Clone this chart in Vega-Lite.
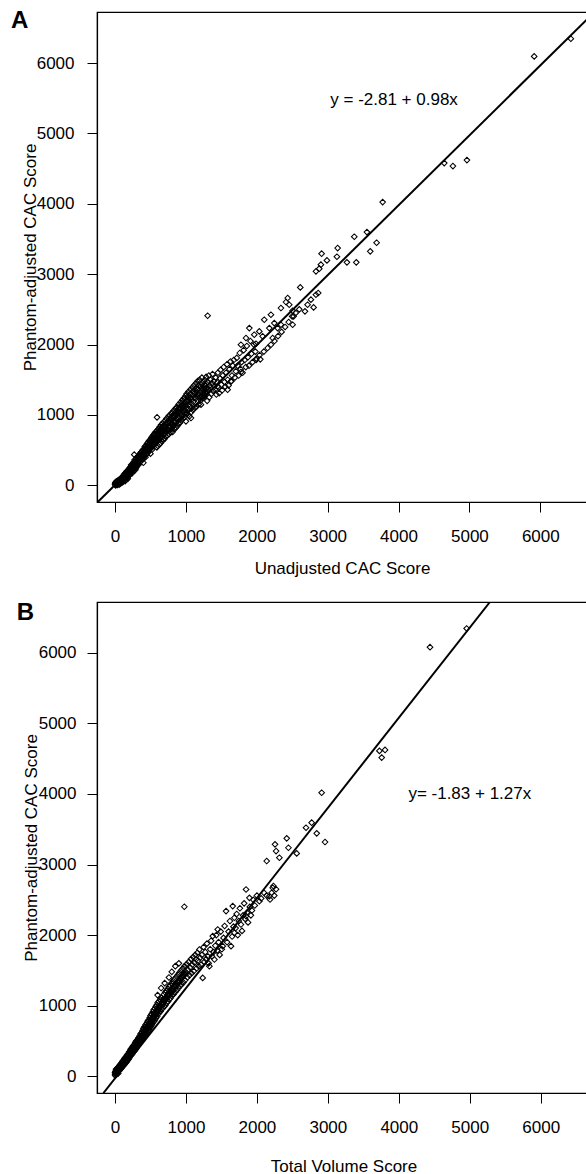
{
"$schema":"https://vega.github.io/schema/vega-lite/v6.json",
"autosize":{"type":"pad"},
"padding":{"left":10,"top":8,"right":0,"bottom":0},
"spacing":23,
"columns":1,
"align":"none",
"config":{"font":"Liberation Sans","view":{"stroke":"black","strokeWidth":1.2},
"axis":{"grid":false,"domainColor":"black","domainWidth":1.2,"tickColor":"black","tickWidth":1,"tickSize":10,"labelColor":"black","labelFontSize":17,"labelFont":"Liberation Sans","titleColor":"black","titleFontSize":17,"titleFontWeight":"normal","titleFont":"Liberation Sans","labelFlush":false,"labelOverlap":false}},
"datasets":{
"lineA":[{"x":-243,"y":-237},{"x":6657,"y":6619}],
"lineB":[{"x":-163,"y":-237},{"x":5285,"y":6720}],
"txtA":[{"x":3037,"y":5406,"label":"y = -2.81 + 0.98x"}],
"txtB":[{"x":4135,"y":3930,"label":"y= -1.83 + 1.27x"}],
"lblA":[{"x":-1467,"y":6493,"label":"A"}],
"lblB":[{"x":-1385,"y":6468,"label":"B"}],
"ptsA":[
{"x":0,"y":10},{"x":5,"y":40},{"x":10,"y":0},{"x":12,"y":25},{"x":18,"y":55},{"x":20,"y":15},{"x":25,"y":35},{"x":30,"y":60},{"x":32,"y":5},{"x":38,"y":45},{"x":40,"y":20},{"x":45,"y":70},{"x":50,"y":30},{"x":55,"y":55},{"x":58,"y":10},{"x":62,"y":80},{"x":65,"y":40},{"x":70,"y":60},{"x":72,"y":25},{"x":78,"y":95},{"x":80,"y":50},{"x":85,"y":70},{"x":88,"y":35},{"x":92,"y":110},{"x":95,"y":60},{"x":100,"y":85},{"x":100,"y":40},
{"x":3,"y":28},{"x":15,"y":42},{"x":22,"y":48},{"x":28,"y":20},{"x":35,"y":30},{"x":42,"y":55},{"x":48,"y":45},{"x":52,"y":68},{"x":60,"y":50},{"x":68,"y":75},{"x":75,"y":45},{"x":82,"y":88},{"x":90,"y":75},{"x":97,"y":100},
{"x":105,"y":120},{"x":108,"y":70},{"x":112,"y":95},{"x":115,"y":50},{"x":120,"y":140},{"x":122,"y":100},{"x":128,"y":75},{"x":130,"y":160},{"x":135,"y":115},{"x":138,"y":90},{"x":142,"y":60},{"x":145,"y":175},{"x":150,"y":130},{"x":152,"y":100},{"x":158,"y":150},{"x":160,"y":80},{"x":165,"y":200},{"x":168,"y":140},{"x":172,"y":115},{"x":175,"y":180},{"x":180,"y":95},{"x":182,"y":210},{"x":186,"y":160},{"x":190,"y":130},{"x":194,"y":230},{"x":198,"y":175},{"x":200,"y":145},
{"x":110,"y":110},{"x":118,"y":80},{"x":125,"y":125},{"x":132,"y":135},{"x":140,"y":105},{"x":148,"y":150},{"x":155,"y":120},{"x":162,"y":165},{"x":170,"y":170},{"x":178,"y":135},{"x":184,"y":190},{"x":192,"y":155},{"x":196,"y":205},
{"x":205,"y":245},{"x":208,"y":200},{"x":212,"y":160},{"x":215,"y":260},{"x":220,"y":215},{"x":224,"y":180},{"x":228,"y":290},{"x":232,"y":240},{"x":236,"y":200},{"x":240,"y":170},{"x":244,"y":280},{"x":248,"y":230},{"x":252,"y":310},{"x":256,"y":255},{"x":260,"y":210},{"x":264,"y":330},{"x":268,"y":275},{"x":272,"y":240},{"x":272,"y":436},{"x":276,"y":360},{"x":280,"y":300},{"x":284,"y":255},{"x":288,"y":220},{"x":292,"y":340},{"x":296,"y":290},{"x":300,"y":380},{"x":300,"y":250},
{"x":210,"y":225},{"x":218,"y":195},{"x":226,"y":250},{"x":234,"y":220},{"x":242,"y":260},{"x":250,"y":270},{"x":258,"y":235},{"x":266,"y":300},{"x":274,"y":290},{"x":282,"y":330},{"x":290,"y":275},{"x":298,"y":320},
{"x":305,"y":330},{"x":310,"y":400},{"x":315,"y":280},{"x":320,"y":360},{"x":325,"y":310},{"x":330,"y":420},{"x":335,"y":370},{"x":340,"y":300},{"x":345,"y":440},{"x":350,"y":390},{"x":355,"y":330},{"x":360,"y":460},{"x":365,"y":400},{"x":370,"y":350},{"x":375,"y":480},{"x":380,"y":420},{"x":385,"y":370},{"x":390,"y":500},{"x":395,"y":440},{"x":400,"y":380},{"x":400,"y":320},
{"x":308,"y":365},{"x":318,"y":330},{"x":328,"y":390},{"x":338,"y":345},{"x":348,"y":410},{"x":358,"y":370},{"x":368,"y":430},{"x":378,"y":395},{"x":388,"y":450},{"x":398,"y":410},
{"x":405,"y":470},{"x":410,"y":520},{"x":415,"y":410},{"x":420,"y":550},{"x":425,"y":460},{"x":430,"y":400},{"x":435,"y":560},{"x":440,"y":500},{"x":445,"y":440},{"x":450,"y":590},{"x":455,"y":520},{"x":460,"y":460},{"x":465,"y":610},{"x":470,"y":540},{"x":475,"y":480},{"x":480,"y":630},{"x":485,"y":560},{"x":490,"y":510},{"x":495,"y":650},{"x":500,"y":580},{"x":500,"y":450},
{"x":408,"y":440},{"x":418,"y":490},{"x":428,"y":520},{"x":438,"y":470},{"x":448,"y":530},{"x":458,"y":560},{"x":468,"y":500},{"x":478,"y":580},{"x":488,"y":600},{"x":498,"y":520},
{"x":505,"y":620},{"x":510,"y":530},{"x":515,"y":680},{"x":520,"y":600},{"x":525,"y":510},{"x":530,"y":700},{"x":535,"y":630},{"x":540,"y":560},{"x":545,"y":720},{"x":550,"y":650},{"x":555,"y":580},{"x":560,"y":740},{"x":565,"y":670},{"x":570,"y":600},{"x":575,"y":760},{"x":580,"y":690},{"x":585,"y":620},{"x":590,"y":540},{"x":593,"y":966},{"x":595,"y":780},{"x":600,"y":700},{"x":600,"y":630},
{"x":508,"y":570},{"x":518,"y":650},{"x":528,"y":560},{"x":538,"y":680},{"x":548,"y":610},{"x":558,"y":700},{"x":568,"y":640},{"x":578,"y":720},{"x":588,"y":660},{"x":598,"y":740},
{"x":605,"y":560},{"x":610,"y":800},{"x":615,"y":720},{"x":620,"y":650},{"x":625,"y":580},{"x":630,"y":830},{"x":635,"y":750},{"x":640,"y":680},{"x":645,"y":600},{"x":650,"y":860},{"x":655,"y":770},{"x":660,"y":700},{"x":665,"y":630},{"x":670,"y":880},{"x":675,"y":800},{"x":680,"y":720},{"x":685,"y":650},{"x":690,"y":900},{"x":695,"y":820},{"x":700,"y":740},{"x":700,"y":660},
{"x":608,"y":680},{"x":618,"y":760},{"x":628,"y":700},{"x":638,"y":790},{"x":648,"y":730},{"x":658,"y":820},{"x":668,"y":750},{"x":678,"y":840},{"x":688,"y":780},{"x":698,"y":860},
{"x":708,"y":920},{"x":712,"y":780},{"x":716,"y":690},{"x":722,"y":860},{"x":728,"y":950},{"x":734,"y":800},{"x":740,"y":710},{"x":746,"y":880},{"x":752,"y":980},{"x":758,"y":820},{"x":764,"y":730},{"x":770,"y":900},{"x":776,"y":1000},{"x":782,"y":840},{"x":788,"y":760},{"x":794,"y":930},{"x":800,"y":1030},{"x":800,"y":800},
{"x":705,"y":820},{"x":720,"y":760},{"x":732,"y":890},{"x":744,"y":780},{"x":756,"y":920},{"x":768,"y":850},{"x":780,"y":950},{"x":792,"y":870},
{"x":808,"y":870},{"x":814,"y":760},{"x":820,"y":960},{"x":826,"y":1060},{"x":832,"y":900},{"x":838,"y":800},{"x":844,"y":990},{"x":850,"y":1090},{"x":856,"y":920},{"x":862,"y":820},{"x":868,"y":1010},{"x":874,"y":1110},{"x":880,"y":950},{"x":886,"y":850},{"x":892,"y":1040},{"x":898,"y":1150},{"x":900,"y":880},
{"x":806,"y":980},{"x":818,"y":840},{"x":830,"y":1000},{"x":842,"y":900},{"x":854,"y":1040},{"x":866,"y":940},{"x":878,"y":1060},{"x":890,"y":960},
{"x":906,"y":980},{"x":912,"y":1080},{"x":918,"y":890},{"x":924,"y":1180},{"x":931,"y":1098},{"x":936,"y":920},{"x":942,"y":1110},{"x":948,"y":1210},{"x":954,"y":1040},{"x":960,"y":950},{"x":966,"y":1140},{"x":972,"y":1240},{"x":978,"y":1060},{"x":984,"y":970},{"x":990,"y":1170},{"x":996,"y":1270},{"x":1000,"y":1090},{"x":1001,"y":909},
{"x":904,"y":1100},{"x":916,"y":1020},{"x":928,"y":1130},{"x":940,"y":1000},{"x":952,"y":1150},{"x":964,"y":1060},{"x":976,"y":1180},{"x":988,"y":1070},
{"x":1010,"y":1300},{"x":1016,"y":1010},{"x":1022,"y":1190},{"x":1030,"y":1090},{"x":1036,"y":1330},{"x":1042,"y":1220},{"x":1050,"y":980},{"x":1056,"y":1120},{"x":1062,"y":1360},{"x":1072,"y":956},{"x":1068,"y":1250},{"x":1076,"y":1040},{"x":1082,"y":1160},{"x":1090,"y":1390},{"x":1096,"y":1280},{"x":1100,"y":1070},
{"x":1005,"y":1200},{"x":1025,"y":1260},{"x":1045,"y":1150},{"x":1065,"y":1300},{"x":1085,"y":1220},{"x":1105,"y":1340},{"x":1125,"y":1250},{"x":1145,"y":1380},{"x":1165,"y":1300},{"x":1185,"y":1420},{"x":1205,"y":1250},{"x":1225,"y":1380},{"x":1245,"y":1310},{"x":1265,"y":1430},{"x":1285,"y":1370},
{"x":1108,"y":1190},{"x":1114,"y":1420},{"x":1120,"y":1310},{"x":1128,"y":1100},{"x":1134,"y":1230},{"x":1140,"y":1450},{"x":1146,"y":1340},{"x":1152,"y":1120},{"x":1160,"y":1260},{"x":1166,"y":1480},{"x":1172,"y":1370},{"x":1180,"y":1150},{"x":1186,"y":1290},{"x":1192,"y":1500},{"x":1200,"y":1400},{"x":1213,"y":1146},
{"x":1208,"y":1320},{"x":1214,"y":1210},{"x":1220,"y":1440},{"x":1226,"y":1530},{"x":1232,"y":1350},{"x":1240,"y":1240},{"x":1246,"y":1470},{"x":1252,"y":1380},{"x":1260,"y":1270},{"x":1266,"y":1500},{"x":1272,"y":1410},{"x":1280,"y":1300},{"x":1286,"y":1540},{"x":1292,"y":1440},{"x":1300,"y":1330},{"x":1300,"y":1200},
{"x":1308,"y":1470},{"x":1307,"y":2410},{"x":1316,"y":1360},{"x":1324,"y":1560},{"x":1330,"y":1250},{"x":1338,"y":1420},{"x":1346,"y":1500},{"x":1352,"y":1390},{"x":1360,"y":1300},{"x":1368,"y":1450},{"x":1376,"y":1580},{"x":1384,"y":1340},{"x":1392,"y":1480},{"x":1400,"y":1400},
{"x":1412,"y":1360},{"x":1420,"y":1530},{"x":1430,"y":1290},{"x":1440,"y":1460},{"x":1448,"y":1406},{"x":1452,"y":1600},{"x":1460,"y":1390},{"x":1470,"y":1310},{"x":1482,"y":1520},{"x":1490,"y":1640},{"x":1500,"y":1430},{"x":1512,"y":1350},{"x":1520,"y":1560},{"x":1534,"y":1680},{"x":1545,"y":1470},{"x":1556,"y":1400},{"x":1568,"y":1600},{"x":1580,"y":1720},{"x":1589,"y":1359},{"x":1590,"y":1500},
{"x":1602,"y":1420},{"x":1615,"y":1650},{"x":1630,"y":1760},{"x":1636,"y":1477},{"x":1640,"y":1480},{"x":1650,"y":1560},{"x":1662,"y":1700},{"x":1675,"y":1780},{"x":1690,"y":1530},{"x":1705,"y":1620},{"x":1718,"y":1810},{"x":1730,"y":1700},{"x":1745,"y":1560},{"x":1760,"y":1880},{"x":1772,"y":1650},{"x":1777,"y":1609},{"x":1785,"y":1750},{"x":1800,"y":1600},{"x":1815,"y":1920},{"x":1830,"y":1780},{"x":1845,"y":1680},{"x":1860,"y":1980},{"x":1875,"y":1820},{"x":1890,"y":1700},{"x":1910,"y":2050},{"x":1925,"y":1870},{"x":1940,"y":1750},{"x":1960,"y":2000},{"x":1980,"y":1900},{"x":1995,"y":1800},{"x":2040,"y":1850},{"x":1990,"y":1780},
{"x":2100,"y":1900},{"x":2153,"y":1951},{"x":2200,"y":1998},{"x":2050,"y":1790},{"x":2250,"y":2050},{"x":2300,"y":2120},{"x":2350,"y":2180},{"x":2400,"y":2250},{"x":2450,"y":2320},{"x":2500,"y":2400},{"x":2550,"y":2450},{"x":2600,"y":2500},{"x":2680,"y":2472},{"x":2717,"y":2566},{"x":2764,"y":2638},{"x":2802,"y":2528},{"x":2835,"y":2708},{"x":2867,"y":2732},
{"x":2436,"y":2661},{"x":2412,"y":2604},{"x":2458,"y":2566},{"x":2341,"y":2519},{"x":2506,"y":2481},{"x":2520,"y":2401},{"x":2506,"y":2282},{"x":2200,"y":2424},{"x":2106,"y":2353},{"x":2247,"y":2305},{"x":2294,"y":2234},{"x":2341,"y":2282},{"x":2177,"y":2234},{"x":1895,"y":2234},{"x":2036,"y":2187},{"x":1965,"y":2140},{"x":2083,"y":2117},{"x":2224,"y":2093},{"x":1777,"y":1998},{"x":1848,"y":2093},{"x":1989,"y":2012},{"x":2614,"y":2812},
{"x":2835,"y":3040},{"x":2882,"y":3078},{"x":2905,"y":3135},{"x":2915,"y":3291},{"x":2990,"y":3196},{"x":3141,"y":3371},{"x":3131,"y":3248},{"x":3272,"y":3168},{"x":3404,"y":3168},{"x":3376,"y":3532},{"x":3554,"y":3598},{"x":3601,"y":3324},{"x":3691,"y":3447},{"x":3776,"y":4024},{"x":4645,"y":4578},{"x":4767,"y":4536},{"x":4965,"y":4621},{"x":5914,"y":6094},{"x":6431,"y":6345}
],
"ptsB":[
{"x":0,"y":20},{"x":0,"y":50},{"x":3,"y":10},{"x":5,"y":70},{"x":10,"y":40},{"x":15,"y":100},{"x":20,"y":25},{"x":25,"y":80},{"x":30,"y":55},{"x":35,"y":120},{"x":40,"y":70},{"x":45,"y":40},{"x":50,"y":100},{"x":55,"y":140},{"x":60,"y":80},{"x":65,"y":120},{"x":70,"y":160},{"x":75,"y":95},{"x":80,"y":140},{"x":85,"y":180},{"x":90,"y":115},{"x":95,"y":160},{"x":100,"y":200},{"x":100,"y":130},
{"x":5,"y":35},{"x":12,"y":60},{"x":18,"y":85},{"x":22,"y":50},{"x":28,"y":105},{"x":33,"y":75},{"x":38,"y":95},{"x":43,"y":125},{"x":48,"y":70},{"x":53,"y":115},{"x":58,"y":105},{"x":63,"y":150},{"x":68,"y":100},{"x":73,"y":135},{"x":78,"y":170},{"x":83,"y":120},{"x":88,"y":150},{"x":93,"y":185},{"x":98,"y":145},
{"x":105,"y":170},{"x":110,"y":220},{"x":115,"y":145},{"x":120,"y":190},{"x":125,"y":240},{"x":130,"y":165},{"x":135,"y":215},{"x":140,"y":260},{"x":145,"y":180},{"x":150,"y":235},{"x":155,"y":280},{"x":160,"y":200},{"x":165,"y":255},{"x":170,"y":300},{"x":175,"y":220},{"x":180,"y":275},{"x":185,"y":320},{"x":190,"y":240},{"x":195,"y":300},{"x":200,"y":345},{"x":200,"y":260},
{"x":108,"y":195},{"x":113,"y":170},{"x":118,"y":215},{"x":128,"y":205},{"x":133,"y":190},{"x":138,"y":235},{"x":148,"y":210},{"x":153,"y":255},{"x":158,"y":230},{"x":168,"y":275},{"x":173,"y":250},{"x":178,"y":300},{"x":188,"y":290},{"x":193,"y":265},{"x":198,"y":320},
{"x":205,"y":330},{"x":210,"y":280},{"x":215,"y":370},{"x":220,"y":310},{"x":225,"y":390},{"x":230,"y":300},{"x":235,"y":350},{"x":240,"y":410},{"x":245,"y":320},{"x":250,"y":380},{"x":255,"y":430},{"x":260,"y":345},{"x":265,"y":400},{"x":270,"y":450},{"x":275,"y":360},{"x":280,"y":430},{"x":285,"y":480},{"x":290,"y":380},{"x":295,"y":450},{"x":300,"y":500},{"x":300,"y":400},
{"x":208,"y":305},{"x":218,"y":345},{"x":228,"y":330},{"x":238,"y":380},{"x":248,"y":355},{"x":258,"y":400},{"x":268,"y":375},{"x":278,"y":405},{"x":288,"y":430},{"x":298,"y":425},
{"x":305,"y":470},{"x":310,"y":420},{"x":315,"y":520},{"x":320,"y":440},{"x":325,"y":490},{"x":330,"y":545},{"x":335,"y":460},{"x":340,"y":520},{"x":345,"y":570},{"x":350,"y":480},{"x":355,"y":540},{"x":360,"y":600},{"x":365,"y":500},{"x":370,"y":570},{"x":375,"y":620},{"x":380,"y":520},{"x":385,"y":590},{"x":390,"y":650},{"x":395,"y":540},{"x":400,"y":610},{"x":400,"y":680},
{"x":308,"y":445},{"x":318,"y":480},{"x":328,"y":470},{"x":338,"y":495},{"x":348,"y":525},{"x":358,"y":510},{"x":368,"y":545},{"x":378,"y":570},{"x":388,"y":555},{"x":398,"y":580},
{"x":405,"y":560},{"x":410,"y":640},{"x":415,"y":700},{"x":420,"y":580},{"x":425,"y":660},{"x":430,"y":730},{"x":435,"y":600},{"x":440,"y":690},{"x":445,"y":750},{"x":450,"y":620},{"x":455,"y":710},{"x":460,"y":780},{"x":465,"y":640},{"x":470,"y":740},{"x":475,"y":800},{"x":480,"y":660},{"x":485,"y":760},{"x":490,"y":830},{"x":495,"y":690},{"x":500,"y":780},{"x":500,"y":860},{"x":507,"y":803},
{"x":408,"y":600},{"x":418,"y":630},{"x":428,"y":620},{"x":438,"y":650},{"x":448,"y":680},{"x":458,"y":670},{"x":468,"y":700},{"x":478,"y":730},{"x":488,"y":720},{"x":498,"y":740},
{"x":505,"y":710},{"x":510,"y":810},{"x":515,"y":880},{"x":520,"y":730},{"x":525,"y":830},{"x":530,"y":910},{"x":535,"y":760},{"x":540,"y":850},{"x":545,"y":940},{"x":550,"y":780},{"x":555,"y":880},{"x":560,"y":960},{"x":565,"y":800},{"x":570,"y":900},{"x":575,"y":990},{"x":580,"y":830},{"x":585,"y":930},{"x":590,"y":1010},{"x":595,"y":850},{"x":600,"y":950},{"x":600,"y":1040},
{"x":508,"y":760},{"x":518,"y":780},{"x":528,"y":790},{"x":538,"y":810},{"x":548,"y":830},{"x":558,"y":850},{"x":568,"y":860},{"x":578,"y":880},{"x":588,"y":900},{"x":598,"y":910},{"x":600,"y":1150},
{"x":606,"y":880},{"x":612,"y":980},{"x":618,"y":1060},{"x":624,"y":900},{"x":630,"y":1000},{"x":636,"y":1090},{"x":642,"y":920},{"x":648,"y":1030},{"x":654,"y":1110},{"x":660,"y":950},{"x":666,"y":1050},{"x":672,"y":1087},{"x":678,"y":970},{"x":684,"y":1080},{"x":690,"y":1160},{"x":696,"y":990},{"x":700,"y":1100},{"x":650,"y":1250},{"x":700,"y":1320},
{"x":610,"y":930},{"x":622,"y":960},{"x":634,"y":980},{"x":646,"y":1000},{"x":658,"y":1020},{"x":670,"y":1010},{"x":682,"y":1040},{"x":694,"y":1060},
{"x":706,"y":1190},{"x":712,"y":1010},{"x":718,"y":1120},{"x":724,"y":1210},{"x":730,"y":1040},{"x":736,"y":1150},{"x":742,"y":1240},{"x":748,"y":1060},{"x":754,"y":1170},{"x":760,"y":1270},{"x":766,"y":1090},{"x":772,"y":1200},{"x":778,"y":1290},{"x":784,"y":1110},{"x":790,"y":1230},{"x":796,"y":1320},{"x":800,"y":1140},{"x":760,"y":1400},{"x":800,"y":1480},
{"x":710,"y":1080},{"x":722,"y":1100},{"x":734,"y":1120},{"x":746,"y":1140},{"x":758,"y":1160},{"x":770,"y":1150},{"x":782,"y":1180},{"x":794,"y":1200},
{"x":808,"y":1250},{"x":816,"y":1350},{"x":824,"y":1160},{"x":832,"y":1280},{"x":840,"y":1380},{"x":848,"y":1190},{"x":856,"y":1300},{"x":864,"y":1410},{"x":872,"y":1220},{"x":880,"y":1330},{"x":888,"y":1440},{"x":896,"y":1250},{"x":900,"y":1360},{"x":850,"y":1560},{"x":900,"y":1600},
{"x":812,"y":1210},{"x":828,"y":1240},{"x":844,"y":1270},{"x":860,"y":1290},{"x":876,"y":1300},{"x":892,"y":1330},{"x":912,"y":1350},{"x":928,"y":1380},{"x":944,"y":1400},{"x":960,"y":1420},{"x":976,"y":1440},{"x":992,"y":1450},
{"x":908,"y":1470},{"x":916,"y":1280},{"x":924,"y":1390},{"x":932,"y":1500},{"x":940,"y":1300},{"x":948,"y":1420},{"x":956,"y":1530},{"x":964,"y":1330},{"x":972,"y":1450},{"x":977,"y":2402},{"x":980,"y":1560},{"x":988,"y":1360},{"x":996,"y":1480},
{"x":1010,"y":1590},{"x":1020,"y":1400},{"x":1030,"y":1510},{"x":1040,"y":1620},{"x":1050,"y":1430},{"x":1060,"y":1540},{"x":1070,"y":1660},{"x":1080,"y":1460},{"x":1090,"y":1580},{"x":1100,"y":1690},{"x":1110,"y":1490},{"x":1120,"y":1610},{"x":1130,"y":1720},{"x":1141,"y":1654},{"x":1150,"y":1530},{"x":1160,"y":1750},{"x":1170,"y":1640},{"x":1180,"y":1560},{"x":1189,"y":1796},{"x":1200,"y":1680},
{"x":1212,"y":1580},{"x":1224,"y":1720},{"x":1236,"y":1394},{"x":1248,"y":1830},{"x":1260,"y":1620},{"x":1272,"y":1760},{"x":1284,"y":1660},{"x":1296,"y":1880},{"x":1308,"y":1700},{"x":1320,"y":1600},{"x":1330,"y":1560},{"x":1342,"y":1800},{"x":1354,"y":1920},{"x":1366,"y":1700},{"x":1377,"y":1986},{"x":1390,"y":1760},{"x":1401,"y":1654},{"x":1414,"y":1850},{"x":1428,"y":2000},{"x":1440,"y":1780},{"x":1448,"y":2080},{"x":1460,"y":1900},{"x":1475,"y":1720},{"x":1490,"y":2050},
{"x":1505,"y":1800},{"x":1518,"y":1844},{"x":1530,"y":1960},{"x":1545,"y":2130},{"x":1565,"y":2340},{"x":1580,"y":1900},{"x":1600,"y":2050},{"x":1620,"y":2200},{"x":1635,"y":1844},{"x":1650,"y":1980},{"x":1659,"y":2411},{"x":1670,"y":2120},{"x":1682,"y":2033},{"x":1682,"y":2246},{"x":1700,"y":2100},{"x":1715,"y":2300},{"x":1730,"y":2000},{"x":1745,"y":2200},{"x":1760,"y":2380},{"x":1775,"y":2150},{"x":1790,"y":2060},{"x":1805,"y":2280},{"x":1820,"y":2450},{"x":1835,"y":2230},{"x":1847,"y":2270},{"x":1847,"y":2647},{"x":1860,"y":2320},{"x":1875,"y":2180},{"x":1894,"y":2528},{"x":1900,"y":2400},{"x":1915,"y":2280},{"x":1930,"y":2350},{"x":1950,"y":2500},{"x":1970,"y":2420},{"x":2000,"y":2560},{"x":2035,"y":2480},{"x":2060,"y":2520},{"x":2100,"y":2600},{"x":2138,"y":2560},{"x":2176,"y":2551},{"x":2185,"y":2505},{"x":2208,"y":2600},{"x":2222,"y":2671},{"x":2232,"y":2695},{"x":2245,"y":2560},{"x":2270,"y":2650},
{"x":2138,"y":3050},{"x":2255,"y":3286},{"x":2270,"y":3191},{"x":2317,"y":3097},{"x":2420,"y":3371},{"x":2444,"y":3238},{"x":2561,"y":3158},{"x":2692,"y":3522},{"x":2772,"y":3593},{"x":2843,"y":3442},{"x":2960,"y":3319},{"x":2913,"y":4018},{"x":3727,"y":4610},{"x":3806,"y":4624},{"x":3759,"y":4515},{"x":4440,"y":6080},{"x":4957,"y":6345}
]
},
"concat":[
{"width":490,"height":490,
"encoding":{
"x":{"field":"x","type":"quantitative","scale":{"domain":[-254,6659],"nice":false,"zero":false},"axis":{"title":"Unadjusted CAC Score","values":[0,1000,2000,3000,4000,5000,6000],"format":"d","labelPadding":16,"titleY":71,"titleBaseline":"alphabetic"}},
"y":{"field":"y","type":"quantitative","scale":{"domain":[-237,6725],"nice":false,"zero":false},"axis":{"title":"Phantom-adjusted CAC Score","values":[0,1000,2000,3000,4000,5000,6000],"format":"d","labelPadding":13,"titleX":-62,"titleBaseline":"alphabetic"}}},
"layer":[
{"data":{"name":"ptsA"},"mark":{"type":"point","shape":"diamond","filled":false,"size":32,"color":"#000000","strokeWidth":1.05,"opacity":1}},
{"data":{"name":"lineA"},"mark":{"type":"line","color":"black","strokeWidth":2,"clip":true}},
{"data":{"name":"txtA"},"mark":{"type":"text","align":"left","baseline":"alphabetic","fontSize":17,"color":"black","font":"Liberation Sans"},"encoding":{"text":{"field":"label"}}},
{"data":{"name":"lblA"},"mark":{"type":"text","align":"left","baseline":"alphabetic","fontSize":24,"fontWeight":"bold","color":"black","font":"Liberation Sans"},"encoding":{"text":{"field":"label"}}}
]},
{"width":493,"height":491,
"encoding":{
"x":{"field":"x","type":"quantitative","scale":{"domain":[-254,6695],"nice":false,"zero":false},"axis":{"title":"Total Volume Score","values":[0,1000,2000,3000,4000,5000,6000],"format":"d","labelPadding":16,"titleY":78,"titleBaseline":"alphabetic"}},
"y":{"field":"y","type":"quantitative","scale":{"domain":[-237,6720],"nice":false,"zero":false},"axis":{"title":"Phantom-adjusted CAC Score","values":[0,1000,2000,3000,4000,5000,6000],"format":"d","labelPadding":11,"titleX":-61,"titleBaseline":"alphabetic"}}},
"layer":[
{"data":{"name":"ptsB"},"mark":{"type":"point","shape":"diamond","filled":false,"size":32,"color":"#000000","strokeWidth":1.05,"opacity":1}},
{"data":{"name":"lineB"},"mark":{"type":"line","color":"black","strokeWidth":2,"clip":true}},
{"data":{"name":"txtB"},"mark":{"type":"text","align":"left","baseline":"alphabetic","fontSize":17,"color":"black","font":"Liberation Sans"},"encoding":{"text":{"field":"label"}}},
{"data":{"name":"lblB"},"mark":{"type":"text","align":"left","baseline":"alphabetic","fontSize":24,"fontWeight":"bold","color":"black","font":"Liberation Sans"},"encoding":{"text":{"field":"label"}}}
]}
]
}
